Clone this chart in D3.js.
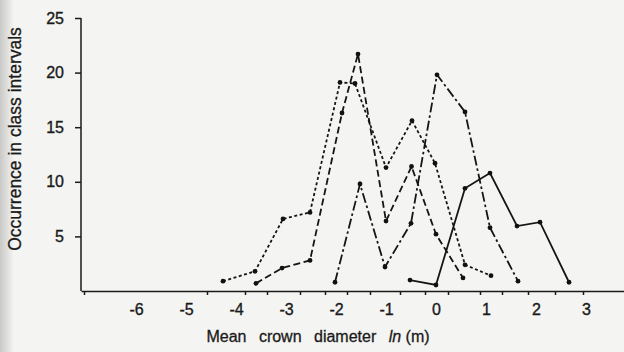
<!DOCTYPE html>
<html>
<head>
<meta charset="utf-8">
<script src="https://cdn.jsdelivr.net/npm/d3@7/dist/d3.min.js"></script>
<style>
  html, body { margin: 0; padding: 0; background: #f4f4f2; }
  svg { display: block; }
  .axis text { font-family: "Liberation Sans", Arial, sans-serif; font-size: 16px; fill: #1a1a1a; stroke: #1a1a1a; stroke-width: 0.35; }
  .axis path, .axis line { stroke: #1a1a1a; stroke-width: 1.5; }
  .title { font-family: "Liberation Sans", Arial, sans-serif; fill: #1a1a1a; stroke: #1a1a1a; stroke-width: 0.3; }
</style>
</head>
<body>
<svg id="chart" width="624" height="352"></svg>
<script>
// class midpoints (ln m) and occurrences
const classesA = [-4.26, -3.62, -3.06, -2.52, -1.92, -1.62, -1.0, -0.48, -0.02, 0.58, 1.1];
const valuesA  = [0.9, 1.8, 6.6, 7.2, 19.1, 19.0, 11.3, 15.6, 11.7, 2.4, 1.4];

const classesB = [-3.6, -3.08, -2.52, -1.88, -1.56, -1.0, -0.49, 0.0, 0.54];
const valuesB  = [0.7, 2.1, 2.8, 16.3, 21.7, 6.4, 11.4, 5.2, 1.2];

const classesC = [-2.02, -1.52, -1.02, -0.5, 0.02, 0.58, 1.08, 1.64];
const valuesC  = [0.8, 9.8, 2.2, 6.2, 19.8, 16.4, 5.8, 0.9];

const classesD = [-0.52, 0.0, 0.58, 1.08, 1.62, 2.08, 2.66];
const valuesD  = [1.0, 0.55, 9.4, 10.8, 5.95, 6.3, 0.8];

const xLabels = [-6, -5, -4, -3, -2, -1, 0, 1, 2, 3];
const xMinorTicks = [-7.04, -4.58, -3.82, -3.38, -2.72, -2.22, -1.78, -1.32, -0.72, -0.22, 0.24, 0.88, 1.32, 1.84, 2.38, 2.94];
const yTicks = [5, 10, 15, 20, 25];

const svg = d3.select('#chart');
const W = 624, H = 352;

// scanned page shading on the left edge
const defs = svg.append('defs');
const grad = defs.append('linearGradient').attr('id', 'edge')
  .attr('x1', 0).attr('x2', 1).attr('y1', 0).attr('y2', 0);
grad.append('stop').attr('offset', '0%').attr('stop-color', '#c9c9c7');
grad.append('stop').attr('offset', '100%').attr('stop-color', '#f4f4f2');
svg.append('rect').attr('width', W).attr('height', H).attr('fill', '#f4f4f2');
svg.append('rect').attr('width', 14).attr('height', H).attr('fill', 'url(#edge)');

const x = d3.scaleLinear().domain([-7.1, 3.76]).range([81, 624]);
const y = d3.scaleLinear().domain([0, 25]).range([291, 18]);

// axes
svg.append('g')
  .attr('class', 'axis')
  .attr('transform', 'translate(81,0)')
  .call(d3.axisLeft(y).tickValues(yTicks).tickSize(6).tickPadding(11).tickSizeOuter(0))
  .call(g => g.select('.domain').attr('d', `M0,${y(25)}V${y(0)}`));

svg.append('g')
  .attr('class', 'axis')
  .attr('transform', 'translate(0,291)')
  .call(d3.axisBottom(x).tickValues(xMinorTicks).tickFormat('').tickSize(4).tickSizeOuter(0));

svg.append('g')
  .attr('class', 'axis')
  .attr('transform', 'translate(0,291)')
  .call(d3.axisBottom(x).tickValues(xLabels).tickSize(0).tickPadding(13).tickFormat(d => d < 0 ? '-' + Math.abs(d) : d))
  .call(g => g.select('.domain').remove());

// axis titles
svg.append('text')
  .attr('class', 'title')
  .attr('transform', 'translate(21,139) rotate(-90)')
  .attr('text-anchor', 'middle')
  .style('font-size', '17.5px')
  .text('Occurrence in class intervals');

const xt = svg.append('text')
  .attr('class', 'title')
  .attr('x', 318).attr('y', 342)
  .attr('text-anchor', 'middle')
  .style('font-size', '16px')
  .style('word-spacing', '8px');
xt.append('tspan').text('Mean crown diameter ');
xt.append('tspan').style('font-style', 'italic').text('ln');
xt.append('tspan').style('word-spacing', '0px').text(' (m)');

// series
const series = [
  { xs: classesA, ys: valuesA, dash: '3,2.5' },
  { xs: classesB, ys: valuesB, dash: '7,3.5' },
  { xs: classesC, ys: valuesC, dash: '10,3,2.5,3' },
  { xs: classesD, ys: valuesD, dash: null }
];

const line = d3.line().x(d => x(d[0])).y(d => y(d[1]));

series.forEach(s => {
  const pts = s.xs.map((v, i) => [v, s.ys[i]]);
  svg.append('path')
    .datum(pts)
    .attr('d', line)
    .attr('fill', 'none')
    .attr('stroke', '#151515')
    .attr('stroke-width', 1.8)
    .attr('stroke-dasharray', s.dash);
  svg.selectAll(null)
    .data(pts)
    .enter()
    .append('circle')
    .attr('cx', d => x(d[0]))
    .attr('cy', d => y(d[1]))
    .attr('r', 2.4)
    .attr('fill', '#111');
});
</script>
</body>
</html>
